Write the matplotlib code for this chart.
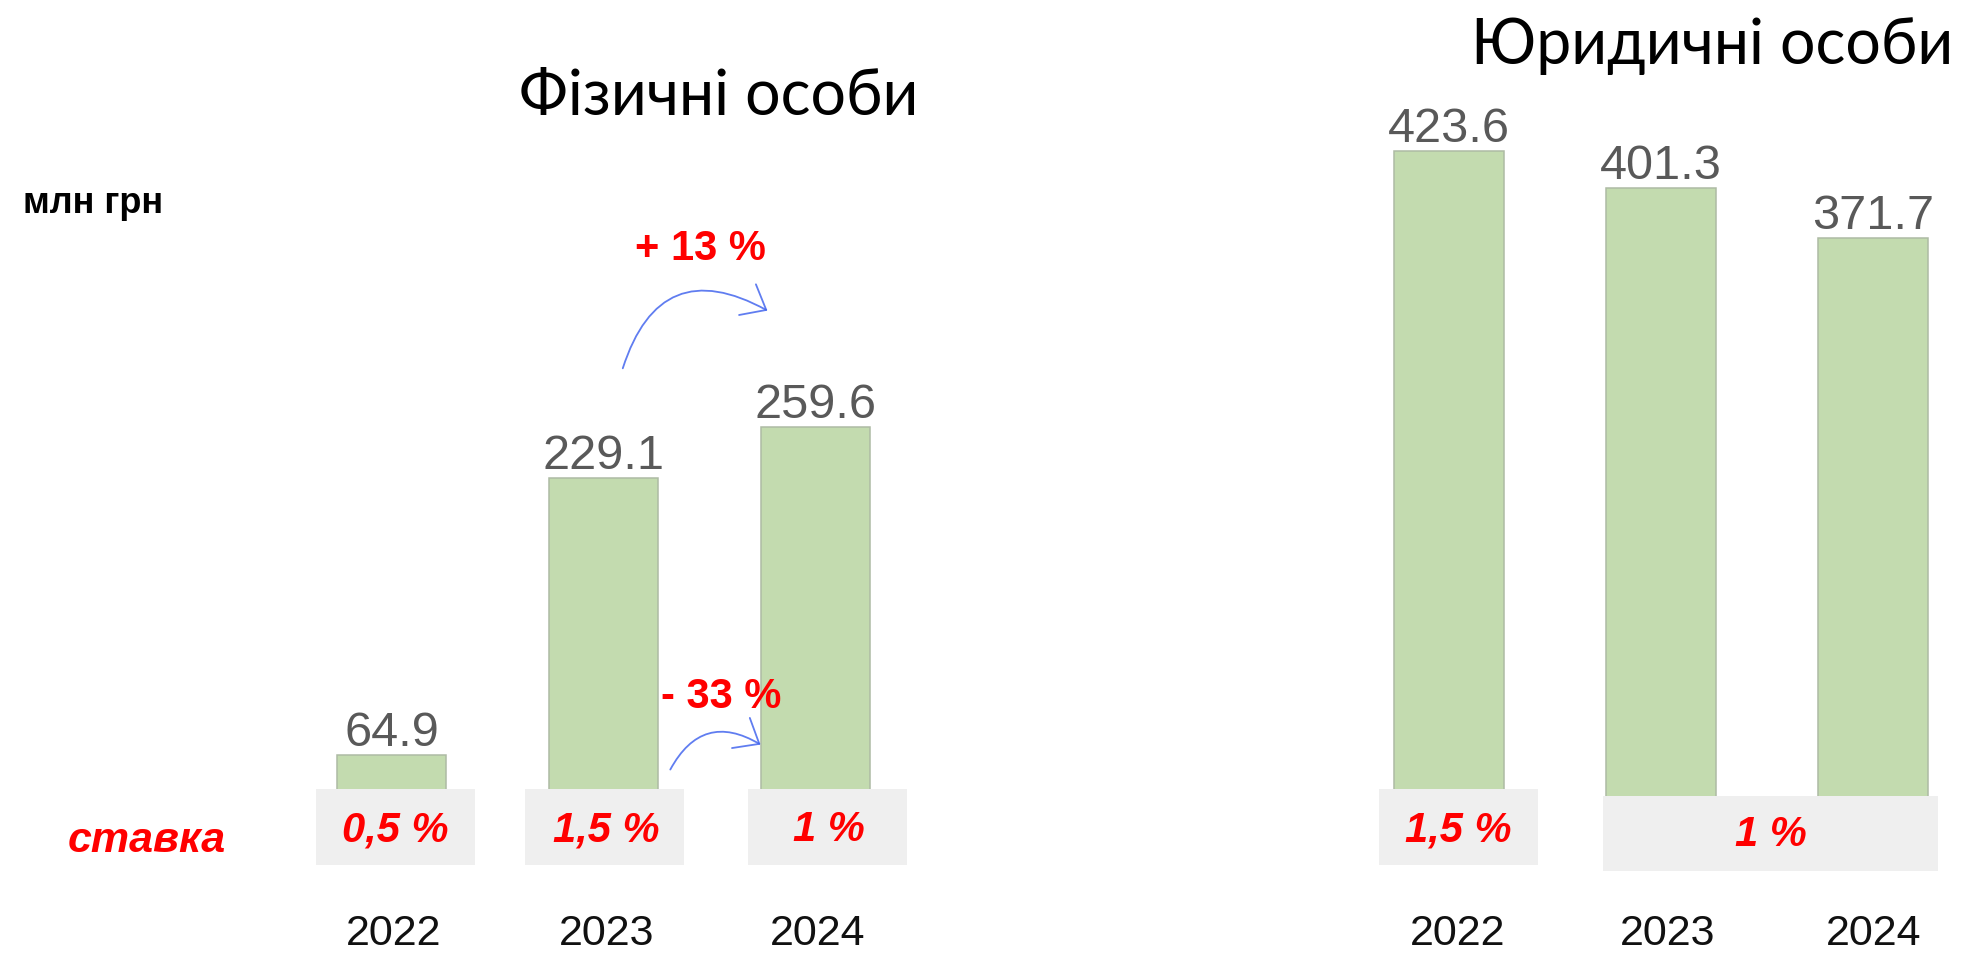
import matplotlib
matplotlib.use("Agg")
import matplotlib.pyplot as plt
from matplotlib.patches import Rectangle, FancyArrowPatch

# ---- data ----
years = ["2022", "2023", "2024"]
phys_values = [64.9, 229.1, 259.6]
legal_values = [423.6, 401.3, 371.7]
phys_rates = ["0,5 %", "1,5 %", "1 %"]
legal_rates = ["1,5 %", "1 %"]
changes = ["+ 13 %", "- 33 %"]
title_phys = "Фізичні особи"
title_legal = "Юридичні особи"
unit_label = "млн грн"
rate_label = "ставка"

BAR_COLOR = "#C3DBAF"
BAR_EDGE = "#AEBBA4"
BOX_COLOR = "#EFEFEF"
LABEL_GRAY = "#595959"
RED = "#FF0000"
ARROW_BLUE = "#4466EE"
SANS = ["Liberation Sans", "DejaVu Sans"]
TITLE_FONT = ["Lato", "DejaVu Sans"]

W, H = 1971, 954
fig = plt.figure(figsize=(W / 100, H / 100), dpi=100)

def px_axes(left, right, baseline, top):
    return fig.add_axes([left / W, (H - baseline) / H, (right - left) / W, (baseline - top) / H])

ax1 = px_axes(285.5, 921.5, 865.5, 23)
ax1.set_xlim(-0.5, 2.5)
ax2 = px_axes(1343, 1343 + 212 * 2.9, 865.5, 23)
ax2.set_xlim(-0.5, 2.4)
for ax in (ax1, ax2):
    ax.set_ylim(0, 500)
    ax.axis("off")

xs = list(range(len(years)))

# bars
b1 = ax1.bar(xs, phys_values, width=0.51, color=BAR_COLOR, edgecolor=BAR_EDGE, linewidth=1.1, zorder=2)
b2 = ax2.bar(xs, legal_values, width=0.52, color=BAR_COLOR, edgecolor=BAR_EDGE, linewidth=1.1, zorder=2)
for ax, bars, vals in ((ax1, b1, phys_values), (ax2, b2, legal_values)):
    ax.bar_label(bars, labels=[f"{v:.1f}" for v in vals], padding=0, color=LABEL_GRAY,
                 fontsize=35, family=SANS, zorder=5)

def rate_text(ax, x, y, txt):
    ax.text(x, y, txt, color=RED, fontsize=30, fontweight="bold", fontstyle="italic",
            family=SANS, ha="center", va="center", zorder=4, clip_on=False)

# rate boxes (left)
box_spans_left = [(-0.357, 0.393), (-0.368, 0.378), (-0.318, 0.432)]
text_off_left = [0.02, 0.015, 0.064]
for x, (a, b), off, txt in zip(xs, box_spans_left, text_off_left, phys_rates):
    ax1.add_patch(Rectangle((x + a, -0.3), b - a, 45.1, facecolor=BOX_COLOR, edgecolor="none",
                            zorder=3, clip_on=False))
    rate_text(ax1, x + off, 21, txt)

# rate boxes (right)
ax2.add_patch(Rectangle((-0.33, -0.3), 0.75, 45.1, facecolor=BOX_COLOR, edgecolor="none",
                        zorder=3, clip_on=False))
rate_text(ax2, 0.045, 21, legal_rates[0])
ax2.add_patch(Rectangle((0.725, -3.9), 1.582, 44.6, facecolor=BOX_COLOR, edgecolor="none",
                        zorder=3, clip_on=False))
rate_text(ax2, 1.52, 18, legal_rates[1])

# year labels
for x, y, off in zip(xs, years, [0.01, 0.016, 0.01]):
    ax1.text(x + off, -40.6, y, fontsize=31, family=SANS, ha="center", va="center",
             color="#111111", clip_on=False)
for x, y, off in zip(xs, years, [0.04, 0.03, 0.005]):
    ax2.text(x + off, -40.6, y, fontsize=31, family=SANS, ha="center", va="center",
             color="#111111", clip_on=False)

# change annotations
ax1.text(1.455, 366, changes[0], color=RED, fontsize=30, fontweight="bold", family=SANS,
         ha="center", va="center", clip_on=False)
ax1.text(1.554, 100, changes[1], color=RED, fontsize=30, fontweight="bold", family=SANS,
         ha="center", va="center", zorder=5, clip_on=False)
for (x0, y0), (x1, y1), rad in (((1.087, 292.9), (1.785, 327.9), -0.62),
                                ((1.309, 54.9), (1.752, 70.3), -0.54)):
    arr = FancyArrowPatch((x0, y0), (x1, y1), connectionstyle=f"arc3,rad={rad}",
                          arrowstyle="->,head_length=0.55,head_width=0.45", mutation_scale=28,
                          color=ARROW_BLUE, lw=1.3, alpha=0.85, zorder=5, clip_on=False)
    ax1.add_patch(arr)

# titles and side labels
fig.text(719 / W, 1 - 97 / H, title_phys, fontsize=45, family=TITLE_FONT,
         ha="center", va="center", color="black")
fig.text(1712 / W, 1 - 46 / H, title_legal, fontsize=45, family=TITLE_FONT,
         ha="center", va="center", color="black")
fig.text(23 / W, 1 - 204 / H, unit_label, fontsize=26, fontweight="bold", family=SANS,
         ha="left", va="center")
fig.text(147 / W, 1 - 841 / H, rate_label, fontsize=31, fontweight="bold", fontstyle="italic",
         family=SANS, color=RED, ha="center", va="center")

fig.savefig("out.png", dpi=100, facecolor="white")
